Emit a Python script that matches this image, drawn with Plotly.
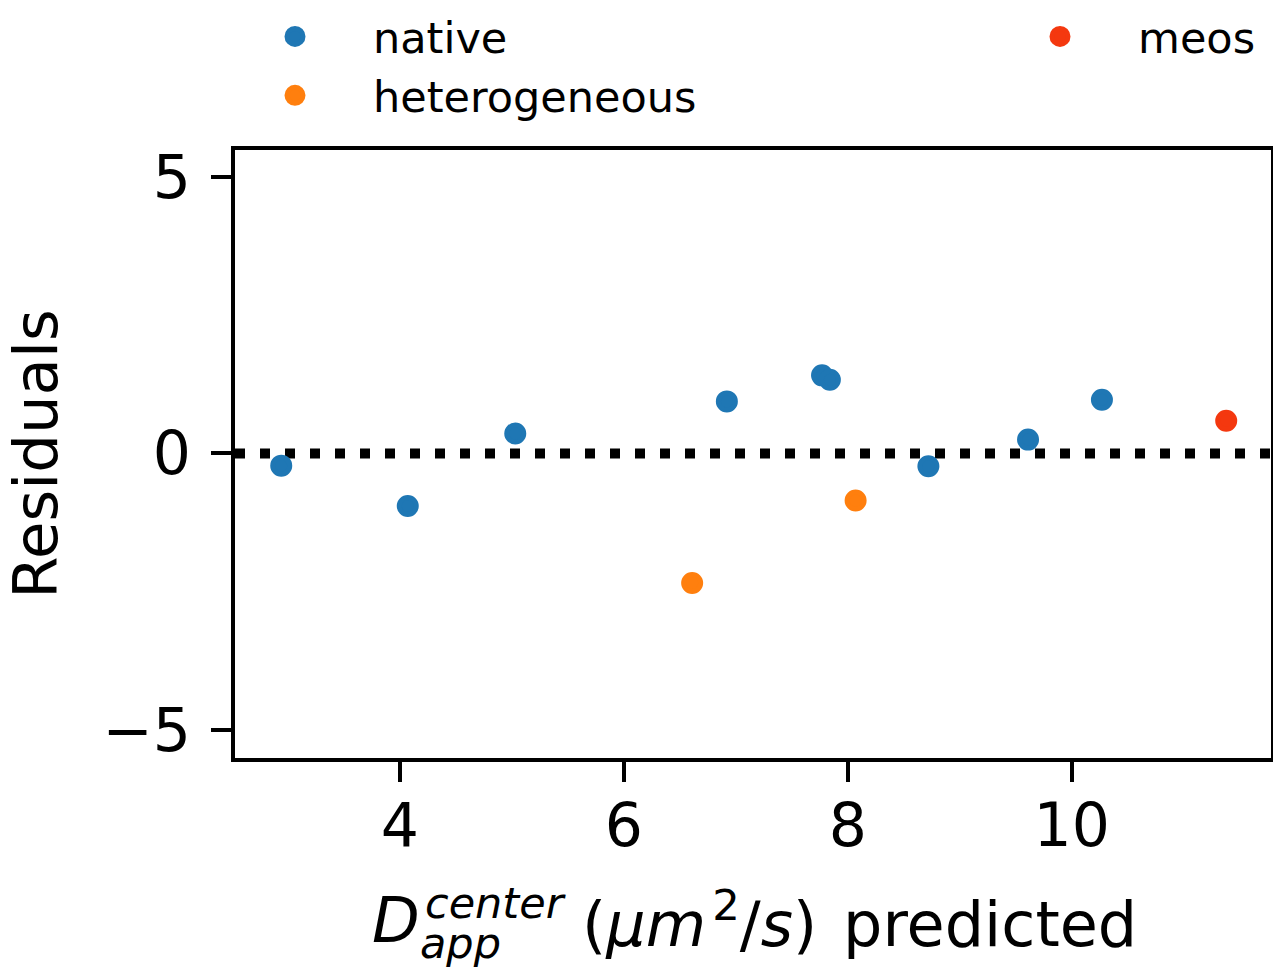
import plotly.graph_objects as go

# ---- data ----
native_x = [2.94, 4.07, 5.03, 6.92, 7.77, 7.84, 8.72, 9.61, 10.27]
native_y = [-0.22, -0.95, 0.36, 0.94, 1.41, 1.33, -0.23, 0.25, 0.97]
het_x = [6.61, 8.07]
het_y = [-2.34, -0.85]
meos_x = [11.38]
meos_y = [0.59]
x_ticks = [4, 6, 8, 10]
y_ticks = [-5, 0, 5]
x_range = [2.527, 11.78]
y_range = [-5.5, 5.48]

FONT = "DejaVu Sans"
W, H = 1273, 969
ML, MR, MT, MB = 235, 2, 150, 211
PW, PH = W - ML - MR, H - MT - MB


def px(xp):
    return (xp - ML) / PW


def py(yp):
    return (H - MB - yp) / PH


def mk(color):
    return dict(color=color, size=17, line=dict(color=color, width=5))


fig = go.Figure()
fig.add_trace(go.Scatter(x=native_x, y=native_y, mode="markers", name="native",
                         marker=mk("#1f77b4"), legend="legend"))
fig.add_trace(go.Scatter(x=het_x, y=het_y, mode="markers", name="heterogeneous",
                         marker=mk("#ff7f0e"), legend="legend"))
fig.add_trace(go.Scatter(x=meos_x, y=meos_y, mode="markers", name="meos",
                         marker=mk("#f4380f"), legend="legend2"))

fig.add_shape(type="line", xref="paper", x0=0, x1=1, yref="y", y0=0, y1=0,
              line=dict(color="black", width=10, dash="10px,15px"), layer="below")

axis_common = dict(showline=True, linewidth=4, linecolor="black", mirror=True,
                   ticks="outside", ticklen=20, tickwidth=4, tickcolor="black",
                   showgrid=False, zeroline=False,
                   tickfont=dict(family=FONT, size=60, color="black"))

fig.update_xaxes(range=x_range, tickvals=x_ticks, ticktext=[str(v) for v in x_ticks],
                 ticklabelstandoff=-8, **axis_common)
fig.update_yaxes(range=y_range, tickvals=y_ticks,
                 ticktext=["\u22125", "0", "5"], ticklabelstandoff=8,
                 title=dict(text="Residuals", font=dict(family=FONT, size=61, color="black"),
                            standoff=27),
                 **axis_common)

# x-axis title built from stacked pieces
ann_font = dict(family=FONT, color="black")
fig.add_annotation(text="<i>D</i>", xref="paper", yref="paper", x=px(370), y=py(920),
                   xanchor="left", yanchor="middle", showarrow=False,
                   font=dict(size=62, **ann_font))
fig.add_annotation(text="<i>center</i>", xref="paper", yref="paper", x=px(423), y=py(903),
                   xanchor="left", yanchor="middle", showarrow=False,
                   font=dict(size=43, **ann_font))
fig.add_annotation(text="<i>app</i>", xref="paper", yref="paper", x=px(418), y=py(943),
                   xanchor="left", yanchor="middle", showarrow=False,
                   font=dict(size=43, **ann_font))
fig.add_annotation(text="(<i>\u03bcm</i>\u200a<sup>2</sup>/<i>s</i>)\u200a predicted",
                   xref="paper", yref="paper", x=px(580), y=py(920),
                   xanchor="left", yanchor="middle", showarrow=False,
                   font=dict(size=62, **ann_font))

fig.update_layout(
    width=W, height=H,
    margin=dict(l=ML, r=MR, t=MT, b=MB, autoexpand=False),
    paper_bgcolor="white", plot_bgcolor="white",
    font=dict(family=FONT, color="black"),
    showlegend=True,
    legend=dict(x=px(217), y=py(2), xanchor="left", yanchor="top",
                font=dict(family=FONT, size=43, color="black"),
                itemwidth=146, bgcolor="rgba(0,0,0,0)", tracegroupgap=0),
    legend2=dict(x=px(982), y=py(2), xanchor="left", yanchor="top",
                 font=dict(family=FONT, size=43, color="black"),
                 itemwidth=146, bgcolor="rgba(0,0,0,0)"),
)

fig.write_html("out.html")
